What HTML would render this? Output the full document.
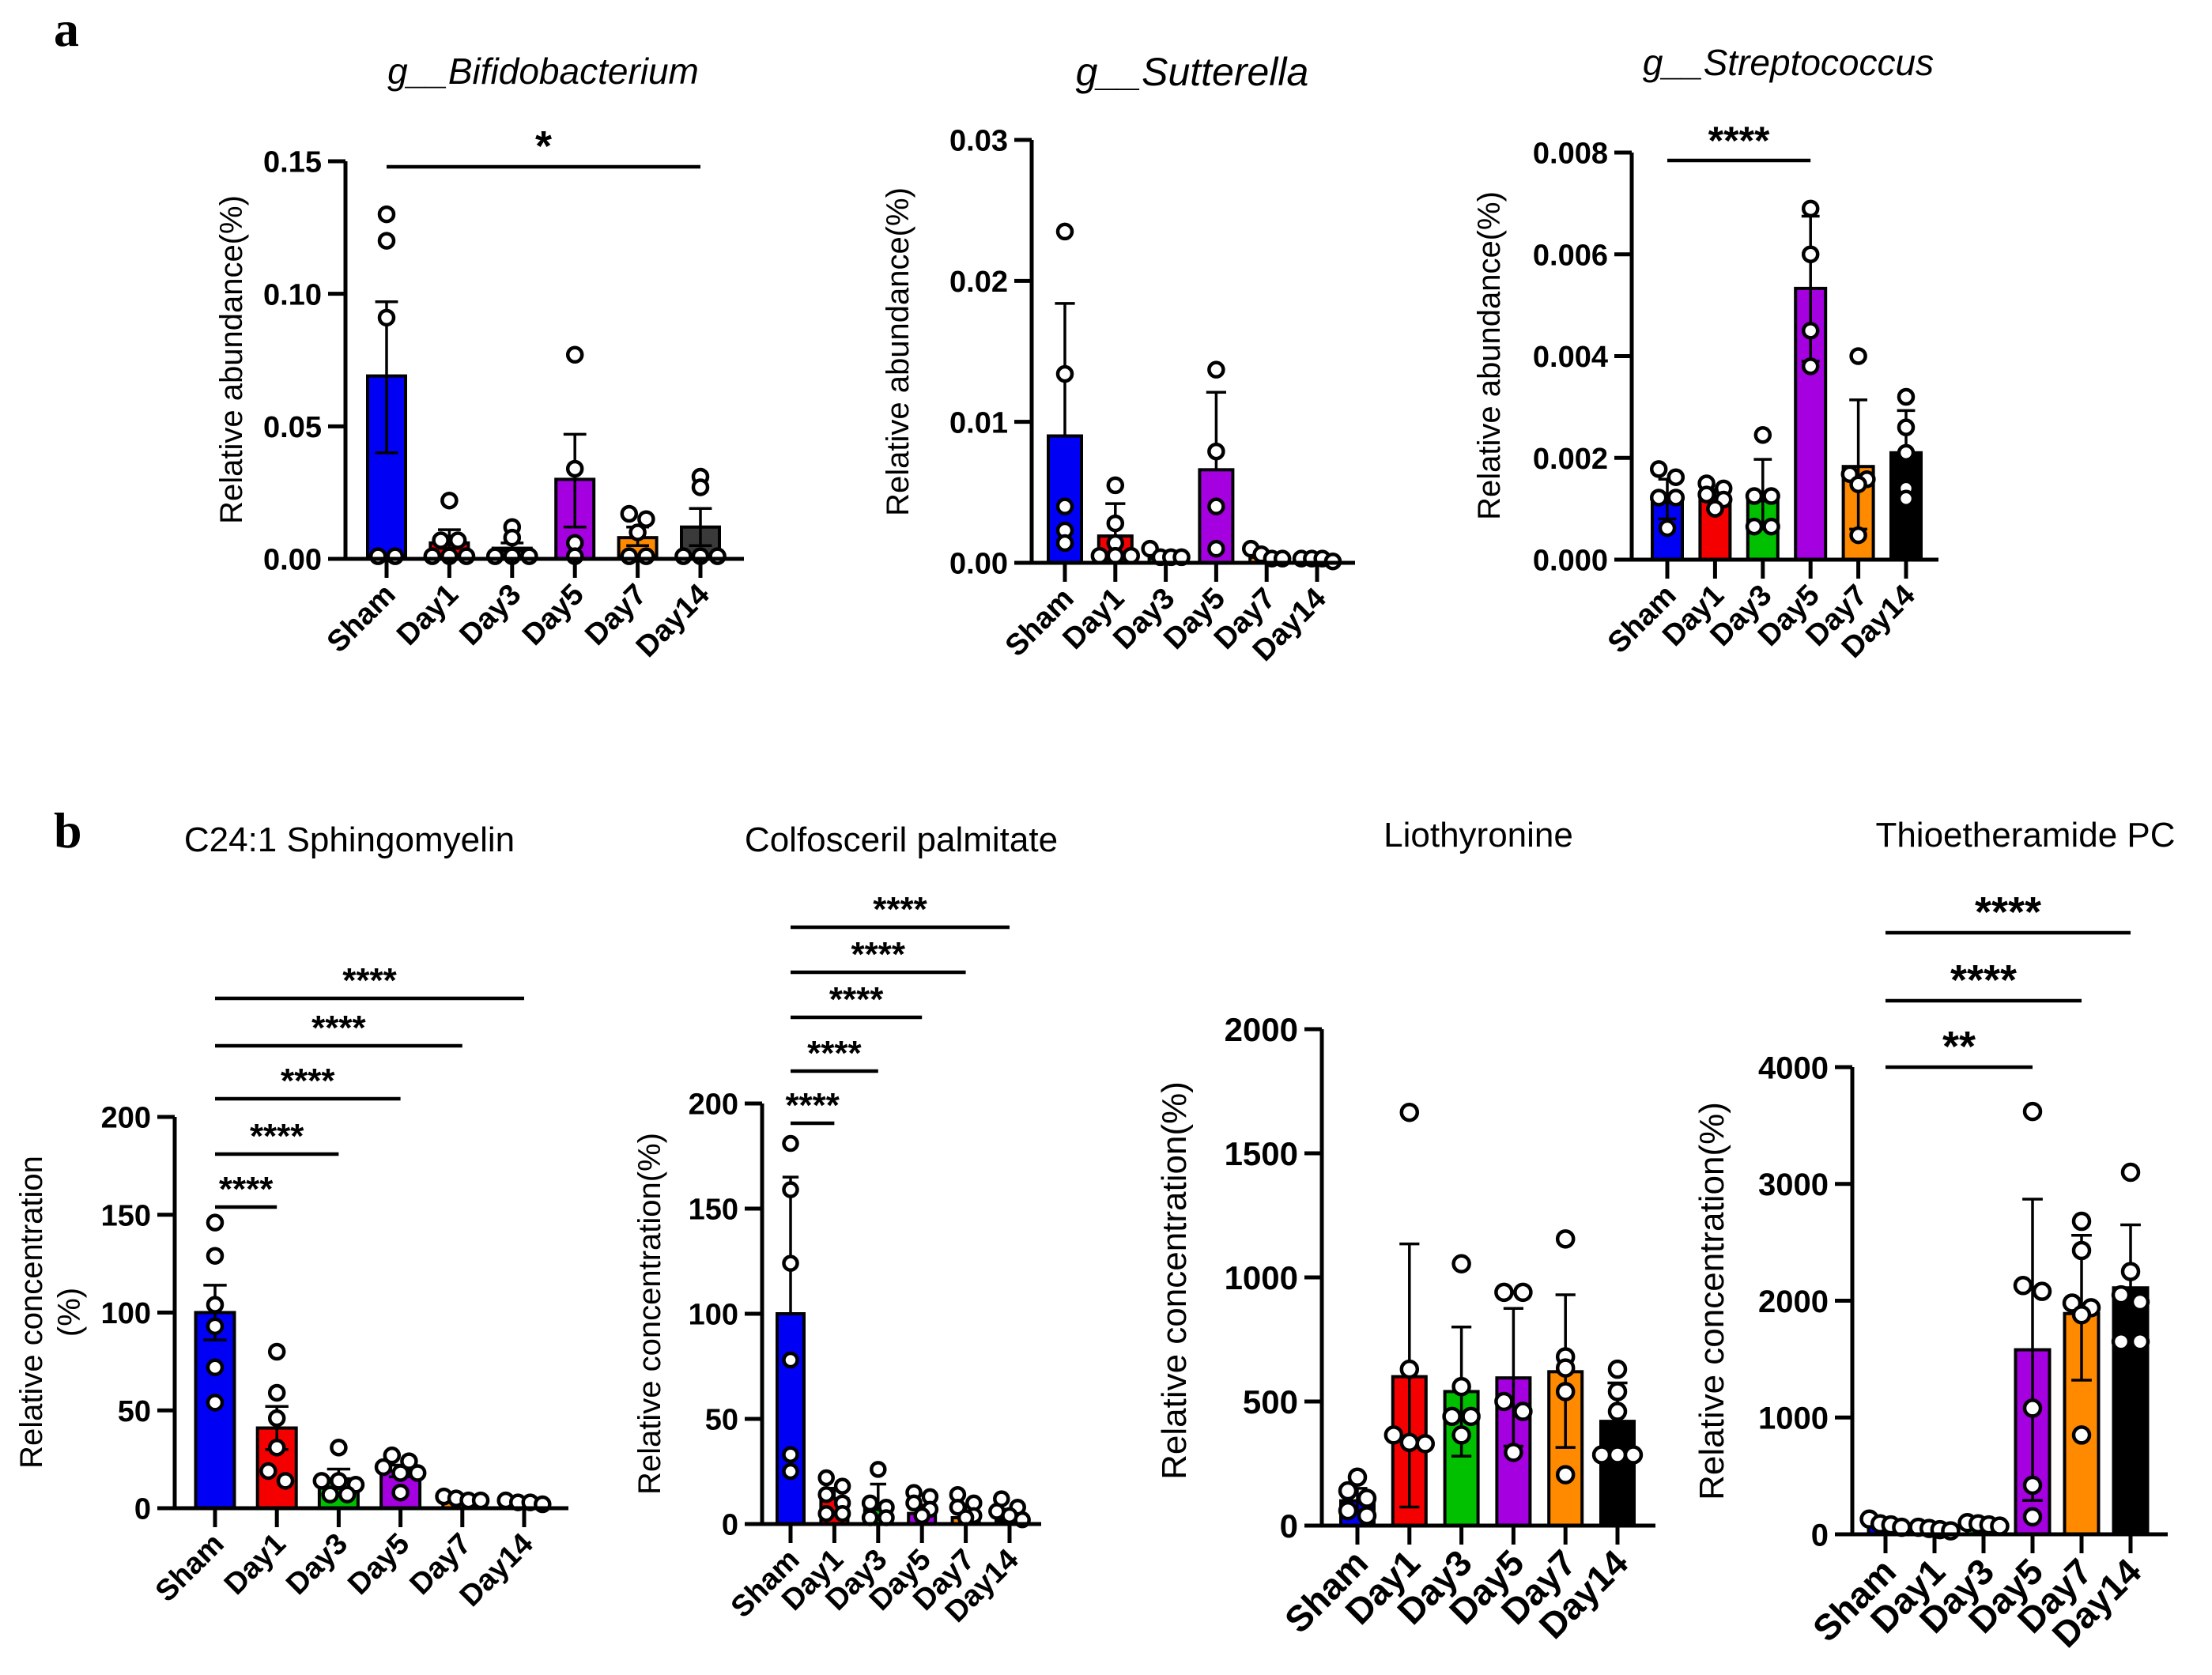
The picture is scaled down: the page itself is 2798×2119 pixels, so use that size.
<!DOCTYPE html>
<html><head><meta charset="utf-8">
<style>
html,body{margin:0;padding:0;background:#fff;}
svg{display:block;}
text{font-family:"Liberation Sans",Arial,sans-serif;}
text.serif{font-family:"Liberation Serif",serif;}
</style></head>
<body>
<svg id="fig" width="2798" height="2119" viewBox="0 0 2798 2119" xmlns="http://www.w3.org/2000/svg">
<text class="serif" x="68" y="58" font-weight="bold" font-size="64">a</text>
<text class="serif" x="68" y="1072" font-weight="bold" font-size="64">b</text>
</svg>
<script>
const categories = ["Sham","Day1","Day3","Day5","Day7","Day14"];

// A1 Bifidobacterium
const a1Means = [0.069,0.006,0.004,0.030,0.008,0.012];
const a1Hi = [0.097,0.011,0.006,0.047,0.012,0.019];
const a1Lo = [0.040,0.004,0.003,0.012,0.005,0.005];
const a1Pts = [[0.130,0.120,0.091,0.001,0.001],[0.022,0.007,0.007,0.001,0.001,0.001],[0.012,0.008,0.001,0.001,0.001],[0.077,0.034,0.006,0.001],[0.017,0.015,0.010,0.001,0.001],[0.031,0.027,0.001,0.001,0.001]];
const a1Ticks = [0,0.05,0.10,0.15];
const a1TickLabels = ["0.00","0.05","0.10","0.15"];

// A2 Sutterella
const a2Means = [0.0090,0.0019,0.0003,0.0066,0.0004,0.0001];
const a2Hi = [0.0184,0.0042,0.0005,0.0121,0.0006,0.0002];
const a2Lo = [0.0090,0.0019,0.0003,0.0066,0.0004,0.0001];
const a2Pts = [[0.0235,0.0134,0.0040,0.0023,0.0014],[0.0055,0.0028,0.0014,0.0005,0.0005,0.0005],[0.0010,0.0004,0.0004,0.0004],[0.0137,0.0079,0.0040,0.0010],[0.0010,0.0006,0.0003,0.0003],[0.0003,0.0003,0.0003,0.0001]];
const a2Ticks = [0,0.01,0.02,0.03];
const a2TickLabels = ["0.00","0.01","0.02","0.03"];

// A3 Streptococcus
const a3Means = [0.00112,0.00118,0.00116,0.00533,0.00183,0.00210];
const a3Hi = [0.00158,0.00138,0.00197,0.00675,0.00314,0.00293];
const a3Lo = [0.00080,0.00100,0.00060,0.00390,0.00060,0.00130];
const a3Pts = [[0.00178,0.00162,0.00122,0.00122,0.00062],[0.00150,0.00140,0.00128,0.00118,0.00100],[0.00245,0.00125,0.00125,0.00065,0.00065],[0.0069,0.0060,0.0045,0.0038],[0.0040,0.00168,0.00158,0.00148,0.00048],[0.0032,0.0026,0.0021,0.0014,0.0012]];
const a3Ticks = [0,0.002,0.004,0.006,0.008];
const a3TickLabels = ["0.000","0.002","0.004","0.006","0.008"];

// B1 C24:1 Sphingomyelin
const b1Means = [100,41,15,19,4,3];
const b1Hi = [114,52,20,22,5,4];
const b1Lo = [86,30,10,16,3,2];
const b1Pts = [[146,129,104,93,72,54],[80,59,46,31,19,14],[31,14,14,12,7,7],[27,24,21,18,18,8],[6,5,4,4],[4,3,3,2]];
const b1Ticks = [0,50,100,150,200];
const b1TickLabels = ["0","50","100","150","200"];

// B2 Colfosceril palmitate
const b2Means = [100,12,7,5,3,3];
const b2Hi = [165,17,19,9,8,7];
const b2Lo = [100,12,7,5,3,3];
const b2Pts = [[181,159,124,78,33,25],[22,18,14,10,5,5],[26,10,8,3,3],[15,13,10,7,4],[14,10,8,4,3],[12,8,6,4,2]];
const b2Ticks = [0,50,100,150,200];
const b2TickLabels = ["0","50","100","150","200"];

// B3 Liothyronine
const b3Means = [100,600,540,595,620,420];
const b3Hi = [150,1135,800,875,930,575];
const b3Lo = [60,75,280,320,315,300];
const b3Pts = [[195,140,110,60,40],[1665,630,365,335,330],[1055,560,440,440,365],[940,940,500,460,295],[1155,680,635,540,205],[630,540,460,285,285,285]];
const b3Ticks = [0,500,1000,1500,2000];
const b3TickLabels = ["0","500","1000","1500","2000"];

// B4 Thioetheramide PC
const b4Means = [90,50,80,1580,1890,2110];
const b4Hi = [120,60,95,2870,2560,2650];
const b4Lo = [60,40,65,290,1320,1600];
const b4Pts = [[130,90,80,60],[60,50,40,30],[100,90,80,70],[3620,2130,2080,1080,420,150],[2680,2430,1980,1940,1880,850],[3100,2250,2050,1990,1650,1650]];
const b4Ticks = [0,1000,2000,3000,4000];
const b4TickLabels = ["0","1000","2000","3000","4000"];

const colorsStd = ["#0000f5","#f50000","#00c000","#a400e0","#ff8a00","#000000"];
const colorsA1 = ["#0000f5","#f50000","#00b000","#a400e0","#ff8a00","#3a3a3a"];

const NS="http://www.w3.org/2000/svg";
const svg=document.getElementById('fig');
function mk(tag,attrs,parent){const e=document.createElementNS(NS,tag);for(const k in attrs)e.setAttribute(k,attrs[k]);(parent||svg).appendChild(e);return e;}

function drawChart(c){
  const g=mk('g',{});
  
  
  const vmax=c.ticks[c.ticks.length-1];
  const y=v=>c.y0+(c.yTop-c.y0)*(v/vmax);
  const x=i=>c.c0+i*c.step;
  const t=mk('text',{x:c.titleX,y:c.titleY,'font-size':c.titleSize,'text-anchor':'middle','font-style':c.italic?'italic':'normal'},g);
  
  
  t.textContent=c.title;
  c.yTitle.forEach((line,k)=>{
    const yt=mk('text',{x:0,y:0,'font-size':c.yTitleSize,'text-anchor':'middle',transform:`translate(${c.yTitleX+k*c.yTitleSize*1.2},${c.yTitleY}) rotate(-90)`},g);
    
    
    yt.textContent=line;
  });
  c.means.forEach((m,i)=>{
    const r=mk('rect',{x:x(i)-c.bw/2,y:y(m),width:c.bw,height:c.y0-y(m),fill:c.colors[i],stroke:'#000','stroke-width':4},g);
    
    
  });
  c.means.forEach((m,i)=>{
    const cx=x(i),cw=c.bw*0.3;
    const e=mk('path',{d:`M${cx},${y(c.lo[i])}V${y(c.hi[i])}M${cx-cw},${y(c.hi[i])}H${cx+cw}M${cx-cw},${y(c.lo[i])}H${cx+cw}`,stroke:'#000','stroke-width':3.5,fill:'none'},g);
    
    
  });
  const R=c.r;
  c.pts.forEach((arr,i)=>{
    const ys=arr.map(v=>y(v));
    const used=new Array(ys.length).fill(false);
    for(let a=0;a<ys.length;a++){
      if(used[a])continue;
      const grp=[a];used[a]=true;
      for(let b=a+1;b<ys.length;b++){if(!used[b]&&Math.abs(ys[b]-ys[a])<R*1.4){grp.push(b);used[b]=true;}}
      const sp=Math.min(R*2.4,(c.bw*0.95)/Math.max(1,grp.length-1));
      grp.forEach((idx,k)=>{
        const off=(k-(grp.length-1)/2)*sp;
        const p=mk('circle',{cx:x(i)+off,cy:ys[idx],r:R,fill:'#fff',stroke:'#000','stroke-width':4.5},g);
        
        
      });
    }
  });
  const ax=mk('path',{d:`M${c.ax},${c.yTop}V${c.y0}M${c.ax-22},${c.y0}H${c.xEnd}`,stroke:'#000','stroke-width':5,fill:'none'},g);
  
  
  c.ticks.forEach((tv,k)=>{
    const tk=mk('line',{x1:c.ax-22,x2:c.ax,y1:y(tv),y2:y(tv),stroke:'#000','stroke-width':5},g);
    
    
    const tl=mk('text',{x:c.ax-30,y:y(tv)+c.tickSize*0.36,'font-size':c.tickSize,'font-weight':'bold','text-anchor':'end'},g);
    
    
    tl.textContent=c.tickLabels[k];
  });
  categories.forEach((cat,i)=>{
    const tk=mk('line',{x1:x(i),x2:x(i),y1:c.y0,y2:c.y0+24,stroke:'#000','stroke-width':5},g);
    
    
    const tl=mk('text',{x:0,y:0,'font-size':c.catSize,'font-weight':'bold','text-anchor':'end',transform:`translate(${x(i)+c.catSize*0.35},${c.y0+34+c.catSize*0.35}) rotate(-45)`},g);
    
    
    tl.textContent=cat;
  });
  (c.sig||[]).forEach(s=>{
    const x1=x(s.from),x2=x(s.to);
    const l=mk('line',{x1:x1,x2:x2,y1:s.y,y2:s.y,stroke:'#000','stroke-width':4.5},g);
    
    
    const st=mk('text',{x:(x1+x2)/2,y:s.y-8,'font-size':s.size,'font-weight':'bold','text-anchor':'middle'},g);
    
    
    st.textContent=s.text;
  });
}

drawChart({name:'chart-bifidobacterium',title:'g__Bifidobacterium',italic:true,titleX:687,titleY:106,titleSize:46,
  ax:437,yTop:204,y0:707,xEnd:941,c0:489,step:79.4,bw:48,r:9,
  ticks:a1Ticks,tickLabels:a1TickLabels,tickSize:38,catSize:38,
  yTitle:['Relative abundance(%)'],yTitleX:306,yTitleY:455,yTitleSize:40,
  means:a1Means,hi:a1Hi,lo:a1Lo,pts:a1Pts,colors:colorsA1,
  sig:[{from:0,to:5,y:211,text:'*',size:54}]});

drawChart({name:'chart-sutterella',title:'g__Sutterella',italic:true,titleX:1508,titleY:108,titleSize:50,
  ax:1305,yTop:177,y0:712,xEnd:1714,c0:1347,step:63.8,bw:42,r:9,
  ticks:a2Ticks,tickLabels:a2TickLabels,tickSize:38,catSize:38,
  yTitle:['Relative abundance(%)'],yTitleX:1149,yTitleY:445,yTitleSize:40,
  means:a2Means,hi:a2Hi,lo:a2Lo,pts:a2Pts,colors:colorsStd});

drawChart({name:'chart-streptococcus',title:'g__Streptococcus',italic:true,titleX:2262,titleY:95,titleSize:46,
  ax:2064,yTop:193,y0:708,xEnd:2452,c0:2109,step:60.4,bw:38,r:9,
  ticks:a3Ticks,tickLabels:a3TickLabels,tickSize:38,catSize:38,
  yTitle:['Relative abundance(%)'],yTitleX:1897,yTitleY:450,yTitleSize:40,
  means:a3Means,hi:a3Hi,lo:a3Lo,pts:a3Pts,colors:colorsStd,
  sig:[{from:0,to:3,y:203,text:'****',size:50}]});

drawChart({name:'chart-c24-sphingomyelin',title:'C24:1 Sphingomyelin',italic:false,titleX:442,titleY:1077,titleSize:44,
  ax:221,yTop:1413,y0:1908,xEnd:719,c0:272,step:78.2,bw:49,r:9,
  ticks:b1Ticks,tickLabels:b1TickLabels,tickSize:38,catSize:38,
  yTitle:['Relative concentration','(%)'],yTitleX:53,yTitleY:1660,yTitleSize:40,
  means:b1Means,hi:b1Hi,lo:b1Lo,pts:b1Pts,colors:colorsStd,
  sig:[{from:0,to:1,y:1527,text:'****',size:44},{from:0,to:2,y:1460,text:'****',size:44},{from:0,to:3,y:1390,text:'****',size:44},{from:0,to:4,y:1323,text:'****',size:44},{from:0,to:5,y:1263,text:'****',size:44}]});

drawChart({name:'chart-colfosceril-palmitate',title:'Colfosceril palmitate',italic:false,titleX:1140,titleY:1077,titleSize:44,
  ax:964,yTop:1396,y0:1928,xEnd:1317,c0:1000,step:55.4,bw:34,r:8.5,
  ticks:b2Ticks,tickLabels:b2TickLabels,tickSize:38,catSize:38,
  yTitle:['Relative concentration(%)'],yTitleX:835,yTitleY:1662,yTitleSize:40,
  means:b2Means,hi:b2Hi,lo:b2Lo,pts:b2Pts,colors:colorsStd,
  sig:[{from:0,to:1,y:1421,text:'****',size:44},{from:0,to:2,y:1355,text:'****',size:44},{from:0,to:3,y:1287,text:'****',size:44},{from:0,to:4,y:1230,text:'****',size:44},{from:0,to:5,y:1173,text:'****',size:44}]});

drawChart({name:'chart-liothyronine',title:'Liothyronine',italic:false,titleX:1870,titleY:1071,titleSize:44,
  ax:1672,yTop:1302,y0:1930,xEnd:2094,c0:1717,step:65.8,bw:42,r:10,
  ticks:b3Ticks,tickLabels:b3TickLabels,tickSize:42,catSize:46,
  yTitle:['Relative concentration(%)'],yTitleX:1500,yTitleY:1620,yTitleSize:44,
  means:b3Means,hi:b3Hi,lo:b3Lo,pts:b3Pts,colors:colorsStd});

drawChart({name:'chart-thioetheramide-pc',title:'Thioetheramide PC',italic:false,titleX:2562,titleY:1071,titleSize:44,
  ax:2343,yTop:1350,y0:1941,xEnd:2742,c0:2385,step:62,bw:43,r:10,
  ticks:b4Ticks,tickLabels:b4TickLabels,tickSize:40,catSize:46,
  yTitle:['Relative concentration(%)'],yTitleX:2180,yTitleY:1646,yTitleSize:44,
  means:b4Means,hi:b4Hi,lo:b4Lo,pts:b4Pts,colors:colorsStd,
  sig:[{from:0,to:3,y:1350,text:'**',size:54},{from:0,to:4,y:1266,text:'****',size:54},{from:0,to:5,y:1180,text:'****',size:54}]});
</script>
</body></html>
